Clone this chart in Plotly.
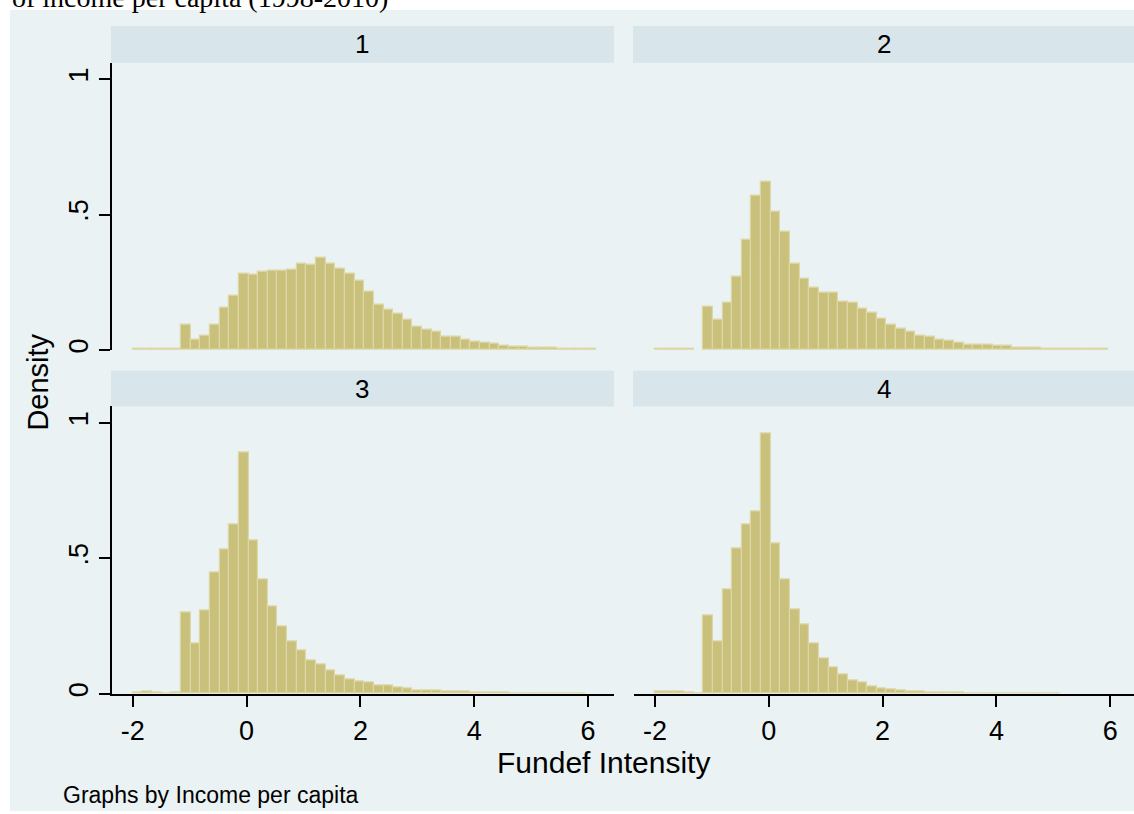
import plotly.graph_objects as go

# Histogram bins (shared across the four income groups)
bin_start = -2.0
bin_width = 0.1695
n_bins = 48

# Density per bin, one list per income-per-capita group (None = empty bin)
density_g1 = [0.003, 0.003, 0.003, 0.003, 0.003,
              0.094, 0.039, 0.052, 0.092, 0.156, 0.199,
              0.280, 0.276, 0.288, 0.292, 0.292, 0.296, 0.318, 0.313, 0.341, 0.320,
              0.299, 0.282, 0.255, 0.215, 0.166, 0.148, 0.132, 0.110, 0.086, 0.075,
              0.068, 0.050, 0.050, 0.039, 0.031, 0.026, 0.022, 0.016, 0.012, 0.012,
              0.010, 0.010, 0.010, 0.006, 0.006, 0.006, 0.003]
density_g2 = [0.005, 0.003, 0.003, 0.003, None,
              0.161, 0.111, 0.174, 0.272, 0.407, 0.571,
              0.620, 0.509, 0.436, 0.319, 0.262, 0.229, 0.213, 0.213, 0.179, 0.174,
              0.151, 0.138, 0.114, 0.093, 0.078, 0.069, 0.054, 0.049, 0.039, 0.034,
              0.028, 0.021, 0.021, 0.021, 0.017, 0.014, 0.010, 0.009, 0.009, 0.006,
              0.006, 0.006, 0.006, 0.004, 0.004, 0.004, None]
density_g3 = [0.005, 0.008, 0.006, 0.001, 0.006,
              0.298, 0.184, 0.308, 0.449, 0.534, 0.624,
              0.891, 0.566, 0.421, 0.322, 0.247, 0.194, 0.158, 0.123, 0.109, 0.086,
              0.069, 0.053, 0.044, 0.042, 0.032, 0.032, 0.022, 0.018, 0.013, 0.013,
              0.011, 0.009, 0.009, 0.009, 0.006, 0.006, 0.005, 0.003, 0.002, 0.002,
              0.001, 0.001, 0.001, 0.001, 0.001, 0.001, None]
density_g4 = [0.008, 0.008, 0.008, 0.004, 0.002,
              0.288, 0.193, 0.384, 0.535, 0.624, 0.672,
              0.960, 0.556, 0.421, 0.312, 0.254, 0.187, 0.131, 0.095, 0.070, 0.049,
              0.042, 0.026, 0.021, 0.016, 0.012, 0.009, 0.009, 0.006, 0.006, 0.006,
              0.005, 0.002, 0.002, 0.002, 0.001, 0.001, 0.001, 0.001, 0.001, 0.001,
              0.001, None, None, None, None, None, None]

group_labels = ["1", "2", "3", "4"]
x_ticks = [-2, 0, 2, 4, 6]
x_tick_text = ["-2", "0", "2", "4", "6"]
y_ticks = [0, 0.5, 1]
y_tick_text = ["0", ".5", "1"]

title_text = "of income per capita (1998-2010)"
x_title = "Fundef Intensity"
y_title = "Density"
note_text = "Graphs by Income per capita"

# Page geometry (pixels)
W, H = 1134, 814
BG = "#EAF2F3"
STRIP = "#D8E5EA"
BAR_FILL = "#C9C07C"
BAR_LINE = "#DDD7A5"
FONT = "Liberation Sans, Arial, sans-serif"


def px_x(p):
    return p / W


def px_y(p):
    return 1 - p / H


centers = [bin_start + bin_width * (i + 0.5) for i in range(n_bins)]

# panel layout: (column x-range px, row y-range px)
cols = [(112, 614), (634, 1134)]
rows = [(63, 351.3), (408, 696.3)]
zero_px = [246.6, 768.8]
unit_px = 56.9
y_top = (rows[0][1] - rows[0][0]) / 272.0
strip_rows = [(26, 63), (372, 408)]
strip_label_x = [362, 884]

fig = go.Figure()
series = [density_g1, density_g2, density_g3, density_g4]

layout_axes = {}
for k, dens in enumerate(series):
    r, c = divmod(k, 2)
    ax = "" if k == 0 else str(k + 1)
    fig.add_trace(go.Bar(
        x=centers, y=dens, width=bin_width,
        marker=dict(color=BAR_FILL, line=dict(color=BAR_LINE, width=1.2)),
        xaxis="x" + ax, yaxis="y" + ax, showlegend=False, hoverinfo="x+y",
    ))
    x0, x1 = cols[c]
    y0, y1 = rows[r]
    xr = [(x0 - zero_px[c]) / unit_px, (x1 - zero_px[c]) / unit_px]
    bottom = r == 1
    left = c == 0
    layout_axes["xaxis" + ax] = dict(
        domain=[px_x(x0), px_x(x1)], range=xr, anchor="y" + ax,
        showgrid=False, zeroline=False,
        showline=bottom, linecolor="black", linewidth=1.5,
        ticks="outside" if bottom else "", ticklen=12, tickwidth=1.5, tickcolor="black",
        tickvals=x_ticks, ticktext=x_tick_text, showticklabels=bottom,
        tickfont=dict(family=FONT, size=27, color="black"),
    )
    layout_axes["yaxis" + ax] = dict(
        domain=[px_y(y1), px_y(y0)], range=[0, y_top], anchor="x" + ax,
        showgrid=True, gridcolor=BG, gridwidth=2, zeroline=False,
        showline=left, linecolor="black", linewidth=1.5,
        ticks="outside" if left else "", ticklen=11, tickwidth=1.5, tickcolor="black",
        tickvals=y_ticks, ticktext=y_tick_text, showticklabels=left,
        tickangle=-90, tickfont=dict(family=FONT, size=27, color="black"),
    )

shapes = [dict(type="rect", xref="paper", yref="paper", layer="below",
               x0=px_x(10), x1=1, y0=0, y1=px_y(10), fillcolor=BG, line=dict(width=0))]
annotations = []
for k, lab in enumerate(group_labels):
    r, c = divmod(k, 2)
    x0, x1 = cols[c]
    s0, s1 = strip_rows[r]
    shapes.append(dict(type="rect", xref="paper", yref="paper", layer="below",
                       x0=px_x(x0 - 1), x1=px_x(x1), y0=px_y(s1), y1=px_y(s0),
                       fillcolor=STRIP, line=dict(width=0)))
    annotations.append(dict(text=lab, xref="paper", yref="paper", showarrow=False,
                            x=px_x(strip_label_x[c]), y=px_y((s0 + s1) / 2),
                            xanchor="center", yanchor="middle",
                            font=dict(family=FONT, size=26, color="black")))

annotations += [
    dict(text=title_text, xref="paper", yref="paper", showarrow=False,
         x=px_x(10), y=px_y(15), xanchor="left", yanchor="bottom",
         font=dict(family="Liberation Serif, Times New Roman, serif", size=28, color="black")),
    dict(text=x_title, xref="paper", yref="paper", showarrow=False,
         x=px_x(603), y=px_y(765), xanchor="center", yanchor="middle",
         font=dict(family=FONT, size=30, color="black")),
    dict(text=y_title, xref="paper", yref="paper", showarrow=False, textangle=-90,
         x=px_x(38), y=px_y(384), xanchor="center", yanchor="middle",
         font=dict(family=FONT, size=29, color="black")),
    dict(text=note_text, xref="paper", yref="paper", showarrow=False,
         x=px_x(61), y=px_y(798), xanchor="left", yanchor="middle",
         font=dict(family=FONT, size=23, color="black")),
]

fig.update_layout(
    width=W, height=H, margin=dict(l=0, r=0, t=0, b=0),
    paper_bgcolor="white", plot_bgcolor="white",
    bargap=0, shapes=shapes, annotations=annotations, **layout_axes,
)

fig.write_html("out.html", config={"displayModeBar": False})
